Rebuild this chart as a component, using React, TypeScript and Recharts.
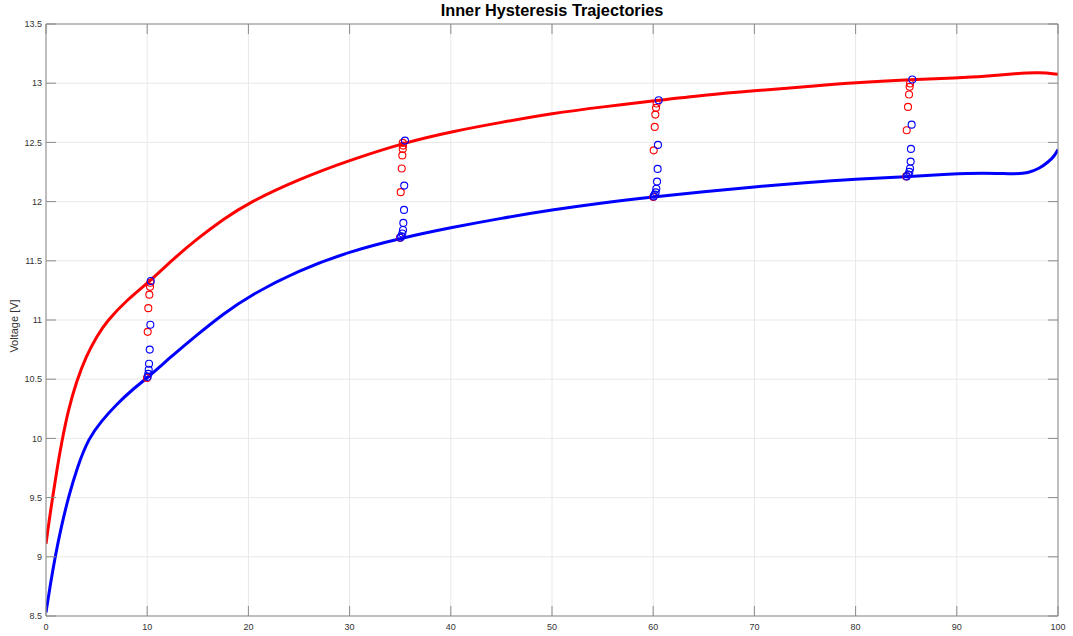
import React from 'react';
import {
  ComposedChart,
  Line,
  Scatter,
  XAxis,
  YAxis,
  CartesianGrid,
} from 'recharts';

document.body.style.margin = '0';

// charge / discharge boundary curves [SOC %, voltage]
const upperCurve = [
  [0, 9.11], [0.3, 9.3], [0.65, 9.5], [1.05, 9.72], [1.55, 9.97], [2.2, 10.24],
  [3.0, 10.48], [4.0, 10.7], [5.0, 10.86], [6.0, 10.99], [8.0, 11.17], [10.3, 11.33],
  [12.5, 11.51], [15, 11.69], [17.5, 11.85], [20, 11.99], [25, 12.19], [30, 12.35],
  [35.5, 12.5], [40, 12.59], [45, 12.67], [50, 12.745], [55, 12.8], [60.5, 12.855],
  [65, 12.9], [70, 12.937], [75, 12.97], [80, 13.005], [85.6, 13.03], [90, 13.045],
  [92.6, 13.055], [95.9, 13.083], [98.2, 13.092], [100, 13.075],
];

const lowerCurve = [
  [0, 8.53], [0.4, 8.75], [0.9, 9.0], [1.5, 9.25], [2.2, 9.5], [3.1, 9.76],
  [4.2, 10.0], [5.5, 10.15], [7.0, 10.29], [8.5, 10.41], [10, 10.51], [12.5, 10.7],
  [15, 10.88], [17.5, 11.05], [20, 11.2], [25, 11.42], [30, 11.58], [35, 11.69],
  [40, 11.78], [45, 11.86], [50, 11.93], [55, 11.99], [60, 12.04], [65, 12.085],
  [70, 12.125], [75, 12.16], [80, 12.19], [85, 12.21], [89.3, 12.233], [92.6, 12.244],
  [95.9, 12.233], [97, 12.24], [98.2, 12.28], [99.1, 12.34], [99.6, 12.38], [100, 12.44],
];

// inner trajectory samples
const redPoints = [
  [10.31, 11.315], [10.28, 11.28], [10.21, 11.214], [10.11, 11.1], [10.05, 10.9], [9.98, 10.51],
  [35.25, 12.496], [35.28, 12.473], [35.25, 12.445], [35.21, 12.39], [35.15, 12.28], [35.05, 12.08], [34.98, 11.695],
  [60.34, 12.828], [60.28, 12.792], [60.21, 12.735], [60.15, 12.631], [60.05, 12.433], [60.01, 12.039],
  [85.38, 12.997], [85.34, 12.969], [85.28, 12.904], [85.18, 12.8], [85.05, 12.602], [85.01, 12.213],
];

const bluePoints = [
  [10.35, 11.33], [10.31, 10.96], [10.25, 10.75], [10.18, 10.63], [10.15, 10.58], [10.11, 10.545], [10.05, 10.52],
  [35.47, 12.515], [35.4, 12.135], [35.38, 11.93], [35.31, 11.82], [35.28, 11.76], [35.21, 11.73], [35.11, 11.706], [35.01, 11.695],
  [60.54, 12.856], [60.47, 12.479], [60.44, 12.276], [60.38, 12.169], [60.31, 12.109], [60.25, 12.078], [60.15, 12.059], [60.05, 12.044],
  [85.6, 13.031], [85.54, 12.65], [85.47, 12.445], [85.44, 12.338], [85.38, 12.279], [85.31, 12.251], [85.21, 12.228], [85.05, 12.213],
];

const xTicks = [0, 10, 20, 30, 40, 50, 60, 70, 80, 90, 100];
const yTicks = [8.5, 9, 9.5, 10, 10.5, 11, 11.5, 12, 12.5, 13, 13.5];

const toPts = (arr: number[][]) => arr.map(([x, y]) => ({ x, y }));

const AXIS = '#8a8a8a';
const LABEL = '#333333';
const FONT = '"Liberation Sans", Arial, Helvetica, sans-serif';

const LeftTick = (props: any) => {
  const { x, y, payload } = props;
  return (
    <g>
      <line x1={x} x2={x + 10} y1={y} y2={y} stroke={AXIS} />
      <text x={x - 4} y={y} dy={3.2} textAnchor="end" fontSize={9} fill={LABEL} fontFamily={FONT}>
        {payload.value}
      </text>
    </g>
  );
};

const RightTick = (props: any) => {
  const { x, y } = props;
  return <line x1={x} x2={x - 10} y1={y} y2={y} stroke={AXIS} />;
};

const BottomTick = (props: any) => {
  const { x, y, payload } = props;
  return (
    <g>
      <line x1={x} x2={x} y1={y} y2={y - 10} stroke={AXIS} />
      <text x={x} y={y + 14} textAnchor="middle" fontSize={9} fill={LABEL} fontFamily={FONT}>
        {payload.value}
      </text>
    </g>
  );
};

const TopTick = (props: any) => {
  const { x, y } = props;
  return <line x1={x} x2={x} y1={y} y2={y + 10} stroke={AXIS} />;
};

const Ring = (color: string) => (props: any) => (
  <circle cx={props.cx} cy={props.cy} r={3.5} fill="none" stroke={color} strokeWidth={1.1} />
);

export default function App() {
  return (
    <div style={{ position: 'relative', width: 1073, height: 636, background: '#fff' }}>
      <div
        style={{
          position: 'absolute',
          top: 1,
          left: 46,
          width: 1012,
          textAlign: 'center',
          fontFamily: FONT,
          fontWeight: 'bold',
          fontSize: 16.3,
          color: '#000',
        }}
      >
        Inner Hysteresis Trajectories
      </div>
      <ComposedChart width={1073} height={636} margin={{ top: 0, right: 0, bottom: 0, left: 0 }}>
        <CartesianGrid stroke="#e8e8e8" />
        <XAxis
          type="number"
          dataKey="x"
          domain={[0, 100]}
          ticks={xTicks}
          interval={0}
          height={20}
          tickSize={0}
          tickMargin={0}
          tickLine={false}
          axisLine={{ stroke: AXIS }}
          tick={<BottomTick />}
          allowDataOverflow
        />
        <XAxis
          xAxisId="top"
          orientation="top"
          type="number"
          dataKey="x"
          domain={[0, 100]}
          ticks={xTicks}
          interval={0}
          height={24}
          tickSize={0}
          tickMargin={0}
          tickLine={false}
          axisLine={{ stroke: AXIS }}
          tick={<TopTick />}
          allowDataOverflow
        />
        <YAxis
          type="number"
          dataKey="y"
          domain={[8.5, 13.5]}
          ticks={yTicks}
          interval={0}
          width={46}
          tickSize={0}
          tickMargin={0}
          tickLine={false}
          axisLine={{ stroke: AXIS }}
          tick={<LeftTick />}
          allowDataOverflow
          label={{
            content: () => (
              <text
                x={18}
                y={326}
                transform="rotate(-90, 18, 326)"
                textAnchor="middle"
                fontSize={11}
                fill={LABEL}
                fontFamily={FONT}
              >
                Voltage [V]
              </text>
            ),
          }}
        />
        <YAxis
          yAxisId="right"
          orientation="right"
          type="number"
          dataKey="y"
          domain={[8.5, 13.5]}
          ticks={yTicks}
          interval={0}
          width={15}
          tickSize={0}
          tickMargin={0}
          tickLine={false}
          axisLine={{ stroke: AXIS }}
          tick={<RightTick />}
          allowDataOverflow
        />
        <Line
          data={toPts(upperCurve)}
          dataKey="y"
          type="basis"
          stroke="#ff0000"
          strokeWidth={3}
          dot={false}
          activeDot={false}
          isAnimationActive={false}
        />
        <Line
          data={toPts(lowerCurve)}
          dataKey="y"
          type="basis"
          stroke="#0000ff"
          strokeWidth={3}
          dot={false}
          activeDot={false}
          isAnimationActive={false}
        />
        <Scatter data={toPts(redPoints)} dataKey="y" shape={Ring('#ff0000')} isAnimationActive={false} />
        <Scatter data={toPts(bluePoints)} dataKey="y" shape={Ring('#0000ff')} isAnimationActive={false} />
      </ComposedChart>
    </div>
  );
}
